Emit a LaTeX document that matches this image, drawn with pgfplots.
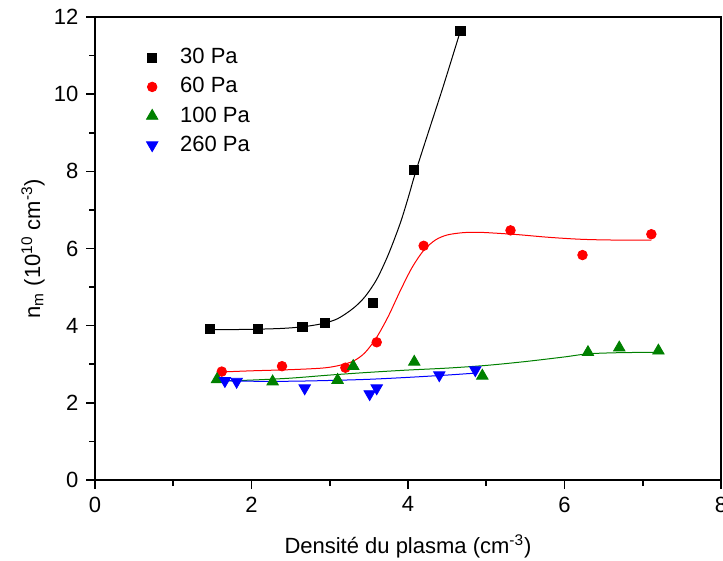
\documentclass[border=0pt]{standalone}
\usepackage{fontspec}
\setmainfont{Liberation Sans}
\usepackage{pgfplots}
\pgfplotsset{compat=1.18}
\definecolor{dgreen}{RGB}{0,128,0}
\begin{document}
\fontsize{11}{13}\selectfont
\begin{tikzpicture}
\begin{axis}[
 name=ax,
 scale only axis, width=313pt, height=231.5pt,
 xmin=0, xmax=8, ymin=0, ymax=12,
 xtick={0,2,4,6,8}, ytick={0,2,4,6,8,10,12},
 minor x tick num=1, minor y tick num=1,
 tick align=outside, tick pos=left,
 major tick length=4.5pt, minor tick length=3pt,
 axis line style={line width=0.8pt},
 every tick/.style={line width=0.8pt, black},
 /pgf/number format/assume math mode=true,
 tick label style={font=\fontsize{11}{13}\selectfont},
 xlabel={Densité du plasma (cm\textsuperscript{-3})},
 ylabel={n\textsubscript{m} (10\textsuperscript{10} cm\textsuperscript{-3})},
 xlabel style={at={(axis description cs:0.5,-0.1426)}, anchor=center, font=\fontsize{11}{13}\selectfont},
 ylabel style={at={(axis description cs:-0.099,0.5)}, anchor=center, rotate=0, font=\fontsize{11}{13}\selectfont},
 legend style={at={(axis description cs:0.072,0.95)}, anchor=north west, draw=none, fill=none,
   font=\fontsize{11}{13}\selectfont, row sep=1.2pt},
 legend cell align=left,
 legend image code/.code={\draw[#1] plot coordinates {(0.3cm,0cm)}; \path[draw=none] (0.3cm,0cm) -- (0.3cm+12pt,0cm);},
]
% data points
\addplot[only marks, mark=square*, mark size=2.3pt, black] coordinates {
 (1.47,3.91) (2.08,3.91) (2.65,3.97) (2.94,4.08) (3.55,4.58) (4.08,8.03) (4.67,11.64)};
\addlegendentry{30 Pa}
\addplot[only marks, mark=*, mark size=2.4pt, red] coordinates {
 (1.62,2.81) (2.39,2.95) (3.20,2.91) (3.60,3.57) (4.20,6.07) (5.31,6.47) (6.23,5.83) (7.11,6.37)};
\addlegendentry{60 Pa}
\addplot[only marks, mark=triangle*, mark size=3.3pt, dgreen] coordinates {
 (1.56,2.61) (2.27,2.55) (3.10,2.59) (3.30,2.95) (4.08,3.06) (4.95,2.70) (6.30,3.31) (6.70,3.43) (7.20,3.35)};
\addlegendentry{100 Pa}
\addplot[only marks, mark=triangle*, mark size=3.3pt, blue, mark options={rotate=180}] coordinates {
 (1.66,2.57) (1.81,2.55) (2.68,2.38) (3.51,2.23) (3.60,2.38) (4.40,2.72) (4.86,2.85)};
\addlegendentry{260 Pa}
% fitted curves
\addplot[black, line width=0.5pt, smooth, forget plot] coordinates {
 (1.47,3.90) (1.8,3.90) (2.1,3.91) (2.4,3.93) (2.65,3.97) (2.9,4.05) (3.1,4.18) (3.3,4.45)
 (3.45,4.75) (3.6,5.2) (3.75,5.85) (3.9,6.65) (4.0,7.3) (4.1,8.0) (4.25,8.95) (4.45,10.2) (4.67,11.64)};
\addplot[red, line width=0.5pt, smooth, forget plot] coordinates {
 (1.62,2.80) (2.0,2.83) (2.5,2.86) (2.9,2.90) (3.1,2.96) (3.3,3.08) (3.45,3.30) (3.6,3.70)
 (3.75,4.25) (3.9,4.90) (4.05,5.50) (4.2,5.95) (4.35,6.22) (4.5,6.35) (4.7,6.41) (4.9,6.42)
 (5.1,6.40) (5.4,6.36) (5.8,6.29) (6.2,6.24) (6.6,6.22) (7.11,6.22)};
\addplot[dgreen, line width=0.5pt, smooth, forget plot] coordinates {
 (1.56,2.56) (2.0,2.59) (2.5,2.64) (3.0,2.72) (3.5,2.79) (4.0,2.85) (4.5,2.90) (5.0,2.97)
 (5.5,3.07) (6.0,3.19) (6.3,3.27) (6.7,3.30) (7.2,3.31)};
\addplot[blue, line width=0.5pt, smooth, forget plot] coordinates {
 (1.62,2.58) (2.0,2.56) (2.5,2.56) (3.0,2.58) (3.5,2.61) (4.0,2.66) (4.5,2.72) (4.86,2.77)};
\end{axis}
\pgfresetboundingbox
\useasboundingbox ([xshift=-47.5pt,yshift=-40pt]ax.south west) rectangle ([xshift=1pt,yshift=8.5pt]ax.north east);
\end{tikzpicture}
\end{document}
